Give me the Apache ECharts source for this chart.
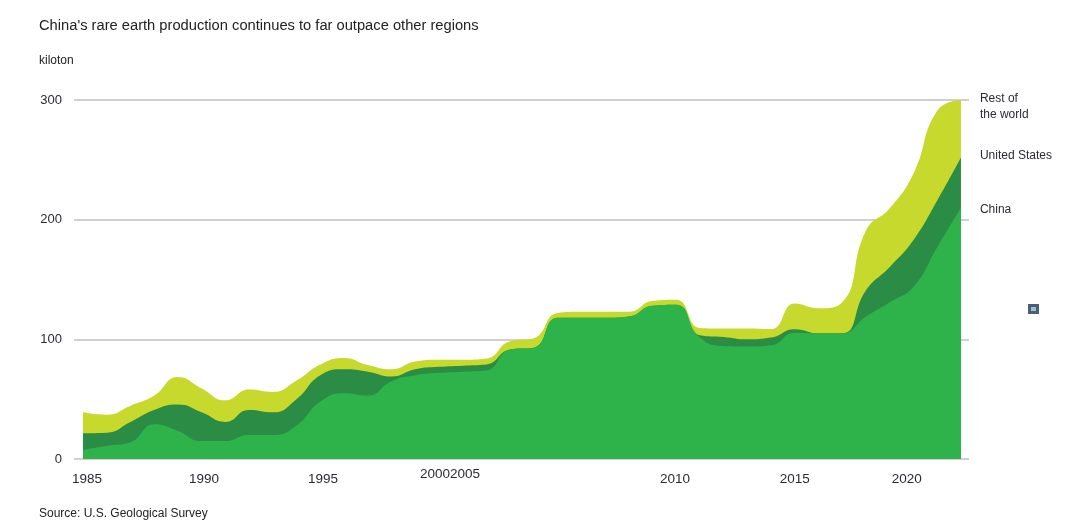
<!DOCTYPE html>
<html>
<head>
<meta charset="utf-8">
<title>Rare earth production</title>
<script src="https://cdn.jsdelivr.net/npm/echarts@6/dist/echarts.min.js"></script>
<style>
html, body { margin: 0; padding: 0; background: #fff; }
#chart { width: 1070px; height: 532px; }
</style>
</head>
<body>
<div id="chart"></div>
<script>
var years = [1985,1986,1987,1988,1989,1990,1991,1992,1993,1994,1995,1996,1997,1998,1999,2000,2001,2002,2003,
    2004,2005,2006,2007,2008,2009,2010,2011,2012,2013,2014,2015,2016,2017,2018,2019,2020,2021,2022];

// kiloton
var china = [7.5,11,14,29,23.5,15,15,20,20,28,48,55,53,65,70,72,73,74,91.5,
    93,118,118,118,119,128,129,101.5,94.5,94,95,105.5,105,105,119,131,144,177,210];
var unitedStates = [14,11,17,12,22,24,16,21,19,22,22,20,20,4,5,5,5,5,0,
    0,0,0,0,0,0,0,2,7.5,6,6.5,3,0,0,22,29.5,39,39,42];
var restOfWorld = [17.5,15,13.5,12,23,20,18,17,17,15.5,9,9.5,5.5,6,6.5,6,5,5,7,
    8,4,5,5,4,4,4,6,7,9,7,21.5,21,26,50,49,55.5,75,48];

var yTicks = [0, 100, 200, 300];

// the x labels do not sit on their own years in the original
var xLabels = ['1985', '1990', '1995', '2010', '2015', '2020'];
var xLabelAt = [1985.17, 1990.1, 1995.11, 2009.95, 2015, 2019.72];
var xLabelsHigh = ['2000', '2005'];
var xLabelHighAt = [1999.83, 2001.1];

var textColor = '#2b2b33';
var xMin = 1984.62;
var xMax = 2022.34;

// stack option does not work with two value axes, so add up here
function addUp(a, b) {
    var out = [];
    for (var i = 0; i < a.length; i++) {
        out.push(a[i] + b[i]);
    }
    return out;
}

function pairs(values) {
    var out = [];
    for (var i = 0; i < years.length; i++) {
        out.push([years[i], values[i]]);
    }
    return out;
}

function makeSeries(name, values, color, label, offsetY) {
    return {
        name: name,
        type: 'line',
        smooth: 0.5,
        showSymbol: false,
        symbol: 'none',
        lineStyle: { width: 0 },
        itemStyle: { color: color },
        areaStyle: { color: color, opacity: 1 },
        endLabel: {
            show: true,
            formatter: label,
            color: textColor,
            fontFamily: 'Liberation Sans',
            fontSize: 12,
            lineHeight: 16,
            align: 'left',
            offset: [11, offsetY]
        },
        data: pairs(values)
    };
}

function makeXAxis(labels, at, margin) {
    return {
        type: 'value',
        position: 'bottom',
        min: xMin,
        max: xMax,
        axisLine: { show: false },
        axisTick: { show: false },
        splitLine: { show: false },
        axisLabel: {
            customValues: at,
            margin: margin,
            color: textColor,
            fontFamily: 'Liberation Sans',
            fontSize: 13.5,
            formatter: function (value) {
                return labels[at.indexOf(value)];
            }
        }
    };
}

var chinaUs = addUp(china, unitedStates);
var total = addUp(chinaUs, restOfWorld);

var chart = echarts.init(document.getElementById('chart'));

var option = {
    animation: false,
    backgroundColor: '#fff',
    title: [
        { text: "China's rare earth production continues to far outpace other regions", left: 34, top: 13,
          textStyle: { color: '#222', fontFamily: 'Liberation Sans', fontSize: 14.7, fontWeight: 'normal' } },
        { text: 'kiloton', left: 34, top: 50,
          textStyle: { color: '#222', fontFamily: 'Liberation Sans', fontSize: 12, fontWeight: 'normal' } },
        { text: 'Source: U.S. Geological Survey', left: 34, top: 503,
          textStyle: { color: '#222', fontFamily: 'Liberation Sans', fontSize: 12, fontWeight: 'normal' } }
    ],
    grid: { left: 74, top: 100, width: 895, height: 359 },
    xAxis: [
        makeXAxis(xLabels, xLabelAt, 13),
        makeXAxis(xLabelsHigh, xLabelHighAt, 8)
    ],
    yAxis: {
        type: 'value',
        min: 0,
        max: 300,
        interval: 100,
        axisLine: { show: false },
        axisTick: { show: false },
        splitLine: { lineStyle: { color: '#c0c0c0', width: 1.5 } },
        axisLabel: {
            margin: 12,
            color: textColor,
            fontFamily: 'Liberation Sans',
            fontSize: 13,
            padding: [0, 0, 5, 0],
            formatter: function (v) { return yTicks.indexOf(v) >= 0 ? String(v) : ''; }
        }
    },
    series: [
        makeSeries('Rest of the world', total, '#c7d92d', 'Rest of\nthe world', 7),
        makeSeries('United States', chinaUs, '#2a8c45', 'United States', -2),
        makeSeries('China', china, '#2eb34b', 'China', 2)
    ],
    graphic: [
        { type: 'rect', shape: { x: 1028, y: 304, width: 11, height: 10 }, style: { fill: '#4a5f70' } },
        { type: 'rect', shape: { x: 1031, y: 307, width: 5, height: 4 }, style: { fill: '#9cc0d8' } }
    ]
};

chart.setOption(option);
</script>
</body>
</html>
